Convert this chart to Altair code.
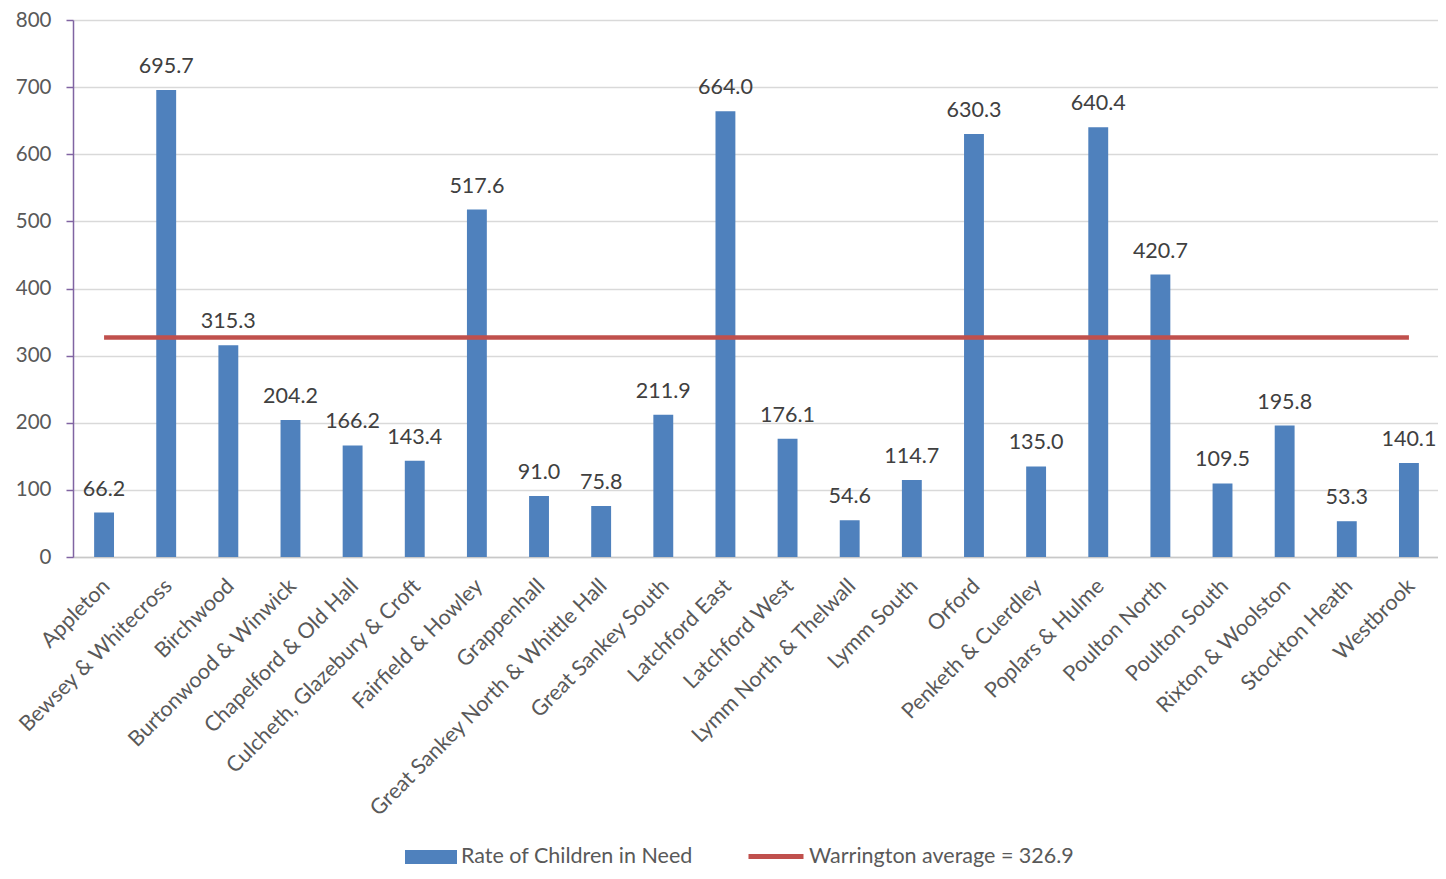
import altair as alt
import pandas as pd

wards = ["Appleton", "Bewsey & Whitecross", "Birchwood", "Burtonwood & Winwick",
         "Chapelford & Old Hall", "Culcheth, Glazebury & Croft", "Fairfield & Howley",
         "Grappenhall", "Great Sankey North & Whittle Hall", "Great Sankey South",
         "Latchford East", "Latchford West", "Lymm North & Thelwall", "Lymm South",
         "Orford", "Penketh & Cuerdley", "Poplars & Hulme", "Poulton North",
         "Poulton South", "Rixton & Woolston", "Stockton Heath", "Westbrook"]
rates = [66.2, 695.7, 315.3, 204.2, 166.2, 143.4, 517.6, 91.0, 75.8, 211.9,
         664.0, 176.1, 54.6, 114.7, 630.3, 135.0, 640.4, 420.7, 109.5, 195.8,
         53.3, 140.1]
average = 326.9
bar_series = "Rate of Children in Need"
avg_series = "Warrington average = 326.9"

df = pd.DataFrame({"ward": wards, "rate": rates, "series": bar_series})
avg_df = pd.DataFrame({"x": [wards[0]], "x2": [wards[-1]], "y": [average], "series": [avg_series]})

FONT = "Lato"
x_scale = alt.Scale(domain=wards, paddingInner=0.68, paddingOuter=0.34, range=[0, 1367])
y_scale = alt.Scale(domain=[0, 800])

bars = alt.Chart(df).mark_bar(color="#4f81bd").encode(
    x=alt.X("ward:N", sort=wards, scale=x_scale, title=None,
            axis=alt.Axis(labelAngle=-45, labelFontSize=21.5, labelColor="#595959",
                          labelFont=FONT, ticks=False, domainColor="#c8c8c8",
                          domainWidth=1.3, labelPadding=18, labelOffset=-5,
                          labelLimit=400, grid=False)),
    y=alt.Y("rate:Q", scale=y_scale, title=None,
            axis=alt.Axis(values=[0, 100, 200, 300, 400, 500, 600, 700, 800],
                          labelFontSize=20.5, labelColor="#595959", labelFont=FONT,
                          domainColor="#8064a2", domainWidth=1.5, tickColor="#8064a2",
                          tickSize=7, tickWidth=1.5, labelPadding=15,
                          gridColor="#d9d9d9", gridWidth=1.3)),
    fill=alt.Fill("series:N", scale=alt.Scale(domain=[bar_series], range=["#4f81bd"]),
                  legend=alt.Legend(title=None, orient="none", legendX=332, legendY=811,
                                    symbolType="M-1,-0.27L1,-0.27L1,0.27L-1,0.27Z",
                                    symbolSize=2704, symbolStrokeWidth=0,
                                    labelFontSize=21.5, labelFont=FONT, labelColor="#595959",
                                    labelOffset=4, labelLimit=500)),
)

labels = alt.Chart(df).mark_text(baseline="bottom", dy=-12, fontSize=21.5, font=FONT,
                                 color="#404040").encode(
    x=alt.X("ward:N", sort=wards, scale=x_scale),
    y=alt.Y("rate:Q", scale=y_scale),
    text=alt.Text("rate:Q", format=".1f"),
)

avg_line = alt.Chart(avg_df).mark_rule(strokeWidth=4.5).encode(
    x=alt.X("x:N", sort=wards, scale=x_scale),
    x2="x2:N",
    y=alt.Y("y:Q", scale=y_scale),
    stroke=alt.Stroke("series:N", scale=alt.Scale(domain=[avg_series], range=["#c0504d"]),
                      legend=alt.Legend(title=None, orient="none", legendX=673, legendY=806.5,
                                        symbolType="M-1,0L1,0", symbolSize=3025,
                                        symbolStrokeWidth=5, labelFontSize=21.5,
                                        labelFont=FONT, labelColor="#595959",
                                        labelOffset=3, labelLimit=500)),
)

chart = alt.layer(bars, avg_line, labels).resolve_scale(fill="independent", stroke="independent").properties(
    width=1365, height=537,
    autosize=alt.AutoSizeParams(type="none"),
    padding={"left": 65, "top": 12, "right": 0, "bottom": 314},
).configure_view(stroke=None).configure(font=FONT)

chart.save("out.html", embed_options={"renderer": "svg", "actions": False})
